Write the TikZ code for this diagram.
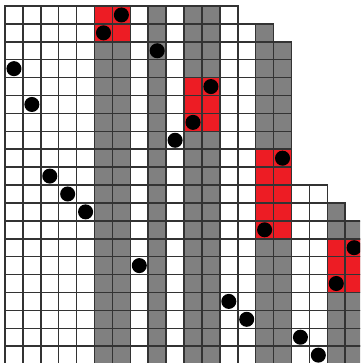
\documentclass[tikz,border=0pt]{standalone}
\usepackage{tikz}

\definecolor{blockred}{RGB}{237,28,36}
\definecolor{colgray}{RGB}{128,128,128}

\begin{document}
\begin{tikzpicture}[x=0.5cm,y=-0.5cm,
    dot/.style={circle,fill=black,inner sep=0pt,minimum size=0.42cm}]
  \clip (-0.28,-0.335) rectangle (19.83,19.94);
  % gray columns
  \fill[colgray] (5,2) rectangle (7,20);
  \fill[colgray] (8,0) rectangle (9,20);
  \fill[colgray] (10,0) rectangle (12,20);
  \fill[colgray] (14,1) rectangle (15,20);
  \fill[colgray] (15,2) rectangle (16,20);
  \fill[colgray] (18,11) rectangle (19,20);
  \fill[colgray] (19,12) rectangle (20,20);
  % red blocks
  \fill[blockred] (5,0) rectangle (7,2);
  \fill[blockred] (10,4) rectangle (12,7);
  \fill[blockred] (14,8) rectangle (16,13);
  \fill[blockred] (18,13) rectangle (20,16);
  % staircase of cells
  \foreach \c/\s in {0/0,1/0,2/0,3/0,4/0,5/0,6/0,7/0,8/0,9/0,10/0,11/0,12/0,
                     13/1,14/1,15/2,16/10,17/10,18/11,19/12}
    \foreach \r in {\s,...,19}
      \draw[line width=1.2pt,black!80] (\c,\r) rectangle +(1,1);
  % one dot in each row
  \foreach \r/\c in {0/6,1/5,2/8,3/0,4/11,5/1,6/10,7/9,8/15,9/2,
                     10/3,11/4,12/14,13/19,14/7,15/18,16/12,17/13,18/16,19/17}
    \node[dot] (d\r) at (\c+0.5,\r+0.5) {};
\end{tikzpicture}
\end{document}
